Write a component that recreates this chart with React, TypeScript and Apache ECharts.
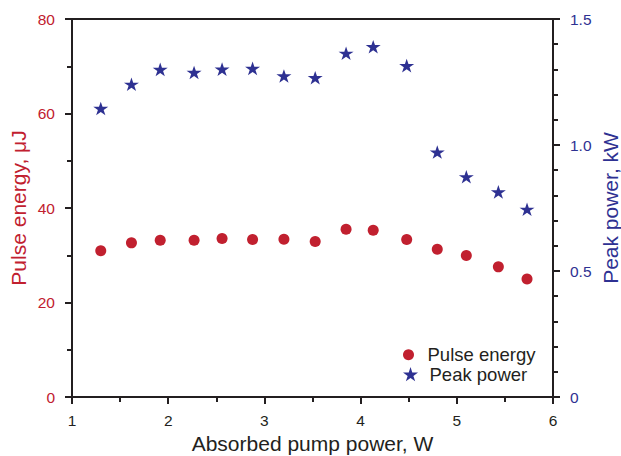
import React, { useEffect, useRef } from "react";
import * as echarts from "echarts";

const pumpPower = [1.299, 1.618, 1.917, 2.269, 2.56, 2.877, 3.203, 3.528, 3.849, 4.131, 4.479, 4.797, 5.099, 5.432, 5.73];
const pulseEnergy = [30.93, 32.62, 33.19, 33.19, 33.55, 33.34, 33.4, 32.92, 35.52, 35.31, 33.34, 31.29, 29.95, 27.54, 24.99];
const peakPower = [1.145, 1.241, 1.3, 1.288, 1.301, 1.304, 1.274, 1.267, 1.364, 1.39, 1.315, 0.972, 0.874, 0.814, 0.745];

const RED = "#c1202f";
const BLUE = "#2e3192";
const DARK = "#231f20";
const FONT = "'Liberation Sans', Arial, Helvetica, sans-serif";
const STAR = "path://M50 0L61.2 34.5L97.6 34.5L68.2 55.9L79.4 90.5L50 69.1L20.6 90.5L31.8 55.9L2.4 34.5L38.8 34.5Z";

export default function App() {
  const ref = useRef<HTMLDivElement>(null);
  useEffect(() => {
    if (!ref.current) return;
    const chart = echarts.init(ref.current, null, { renderer: "svg" });
    const axisLine = { show: true, lineStyle: { color: DARK, width: 2 } };
    chart.setOption({
      animation: false,
      backgroundColor: "#ffffff",
      grid: {
        left: 72, right: 68, top: 19, bottom: 59, show: true, borderColor: DARK, borderWidth: 2,
        backgroundColor: "transparent", containLabel: false, outerBoundsMode: "none",
      },
      xAxis: {
        type: "value", min: 1, max: 6, interval: 1,
        axisLine, axisTick: { show: true, length: 7, lineStyle: { color: DARK, width: 2 } },
        minorTick: { show: true, splitNumber: 2, length: 5, lineStyle: { color: DARK, width: 2 } },
        splitLine: { show: false },
        axisLabel: { color: DARK, fontSize: 15.5, fontFamily: FONT, margin: 15 },
        name: "Absorbed pump power, W", nameLocation: "middle", nameGap: 36, nameMoveOverlap: false,
        nameTextStyle: { color: DARK, fontSize: 21, fontFamily: FONT },
      },
      yAxis: [
        {
          type: "value", min: 0, max: 80, interval: 20, position: "left",
          axisLine, axisTick: { show: true, length: 7, lineStyle: { color: DARK, width: 2 } },
          minorTick: { show: true, splitNumber: 2, length: 5, lineStyle: { color: DARK, width: 2 } },
          splitLine: { show: false },
          axisLabel: { color: RED, fontSize: 15.5, fontFamily: FONT, margin: 17 },
          name: "Pulse energy, μJ", nameLocation: "middle", nameGap: 43, nameMoveOverlap: false,
          nameTextStyle: { color: RED, fontSize: 21, fontFamily: FONT },
        },
        {
          type: "value", min: 0, max: 1.5, interval: 0.5, position: "right",
          axisLine, axisTick: { show: true, length: 7, lineStyle: { color: DARK, width: 2 } },
          minorTick: { show: true, splitNumber: 5, length: 5, lineStyle: { color: DARK, width: 2 } },
          splitLine: { show: false },
          axisLabel: {
            color: BLUE, fontSize: 15.5, fontFamily: FONT, margin: 17,
            formatter: (v: number) => (Math.abs(v) < 1e-9 ? "0" : v.toFixed(1)),
          },
          name: "Peak power, kW", nameLocation: "middle", nameGap: 47, nameMoveOverlap: false,
          nameTextStyle: { color: BLUE, fontSize: 21, fontFamily: FONT },
        },
      ],
      legend: [
        {
          data: [{ name: "Pulse energy", icon: "circle" }],
          left: 403, top: 345.3, padding: 0, itemWidth: 28, itemHeight: 11,
          selectedMode: false, symbolKeepAspect: true,
          textStyle: { color: DARK, fontSize: 18.5, fontFamily: FONT, lineHeight: 18 },
        },
        {
          data: [{ name: "Peak power", icon: STAR }],
          left: 403, top: 364.7, padding: 0, itemWidth: 28, itemHeight: 14.3,
          selectedMode: false, symbolKeepAspect: true,
          textStyle: { color: DARK, fontSize: 18.5, fontFamily: FONT, lineHeight: 18 },
        },
      ],
      series: [
        {
          name: "Pulse energy", type: "scatter", yAxisIndex: 0,
          symbol: "circle", symbolSize: 11,
          itemStyle: { color: RED, opacity: 1 },
          data: pumpPower.map((x, i) => [x, pulseEnergy[i]]),
        },
        {
          name: "Peak power", type: "scatter", yAxisIndex: 1,
          symbol: STAR, symbolSize: [15, 14.3], symbolKeepAspect: true,
          itemStyle: { color: BLUE, opacity: 1 },
          data: pumpPower.map((x, i) => [x, peakPower[i]]),
        },
      ],
    });
    return () => chart.dispose();
  }, []);
  return <div ref={ref} style={{ position: "fixed", left: 0, top: 0, width: 621, height: 456 }} />;
}
